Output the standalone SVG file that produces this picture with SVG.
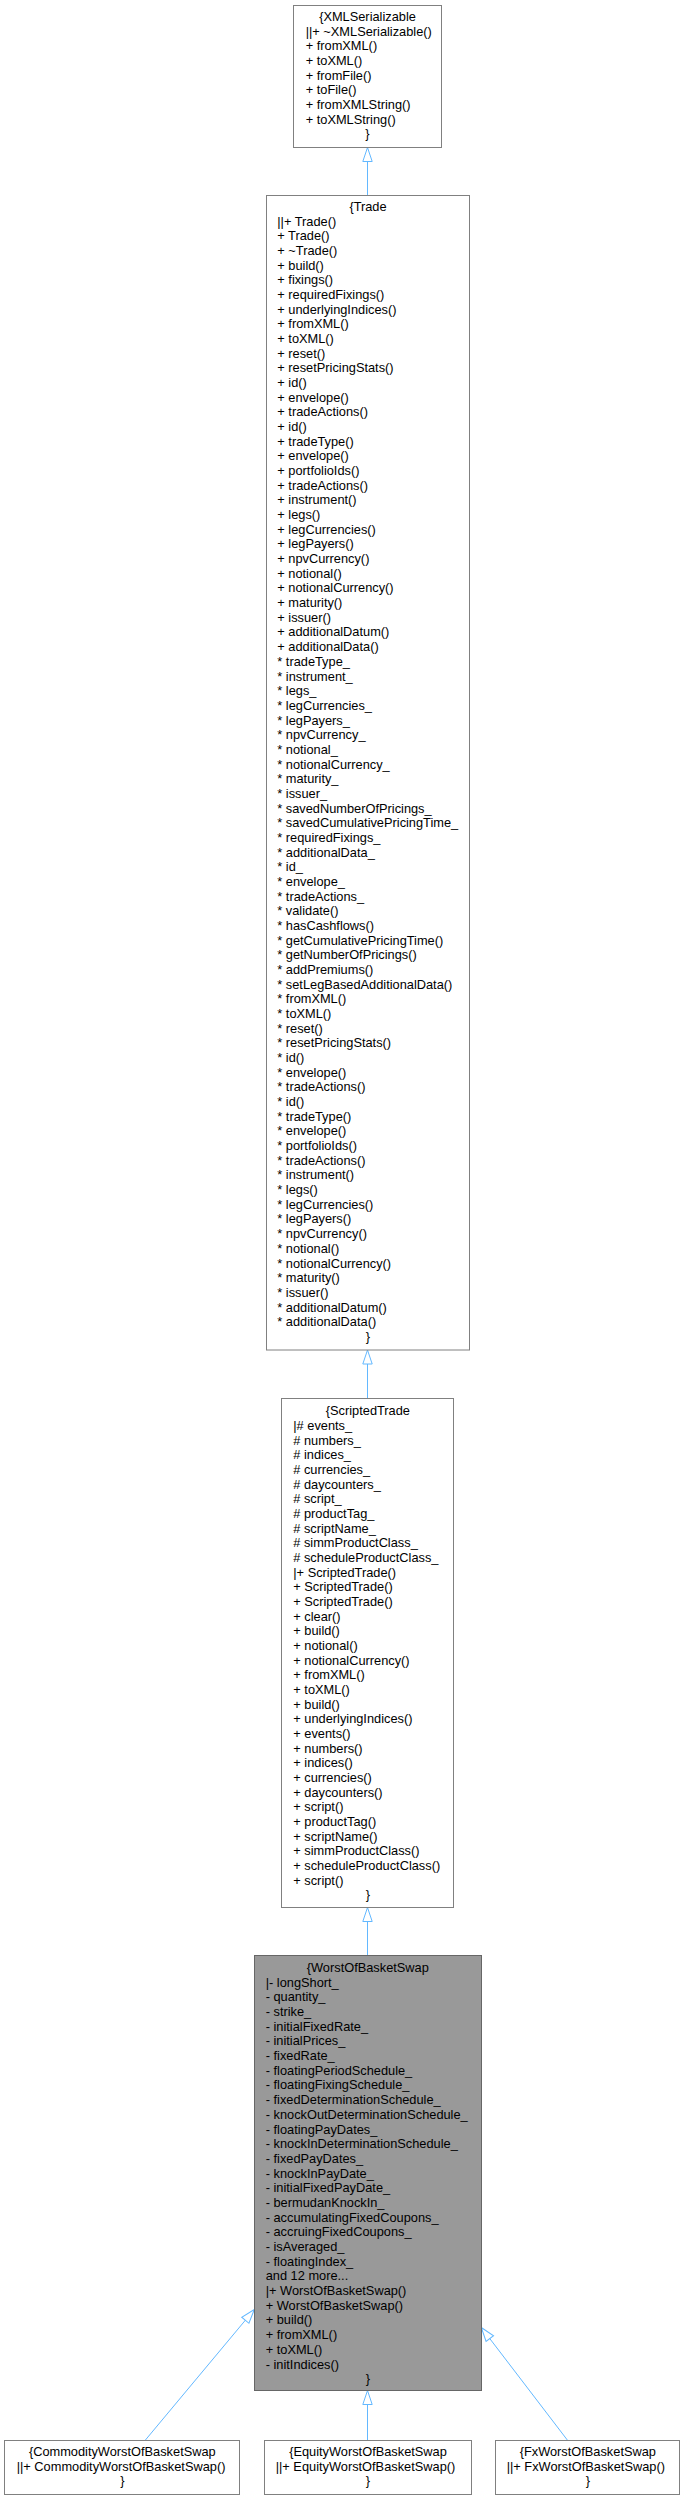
<svg xmlns="http://www.w3.org/2000/svg" width="685" height="2500" viewBox="0 0 685 2500">
<style>
.box{fill:#ffffff;stroke:#808080;stroke-width:1}
.main{fill:#999999;stroke:#666666;stroke-width:1}
text{font-family:"Liberation Sans",Arial,Helvetica,sans-serif;font-size:12.8px;fill:#000000}
.c{text-anchor:middle}
.edge{fill:none;stroke:#63b8ff;stroke-width:1;marker-start:url(#tri)}
</style>
<defs>
<marker id="tri" viewBox="0 0 16 12" markerWidth="16" markerHeight="12" refX="1" refY="6" orient="auto" markerUnits="userSpaceOnUse">
<path d="M1,6 L15,1.3 L15,10.7 Z" fill="#ffffff" stroke="#63b8ff" stroke-width="1"/>
</marker>
</defs>
<rect width="685" height="2500" fill="#ffffff"/>
<g id="connectors">
<path class="edge" d="M367.5,147.5 L367.5,195.5"/>
<path class="edge" d="M367.5,1350 L367.5,1398.5"/>
<path class="edge" d="M367.5,1907.5 L367.5,1955.5"/>
<path class="edge" d="M367.5,2390.5 L367.5,2440.5"/>
<path class="edge" d="M254.3,2309.5 L145,2440.5"/>
<path class="edge" d="M481.3,2327.5 L567.7,2440.5"/>
</g>
<g id="XMLSerializable">
<rect class="box" x="293.5" y="5.5" width="148" height="142"/>
<text class="c" x="367.5" y="20.9">{XMLSerializable</text>
<text x="305.7" y="35.6"><tspan x="305.7">||+ ~XMLSerializable()</tspan><tspan x="305.7" dy="14.67">+ fromXML()</tspan><tspan x="305.7" dy="14.67">+ toXML()</tspan><tspan x="305.7" dy="14.67">+ fromFile()</tspan><tspan x="305.7" dy="14.67">+ toFile()</tspan><tspan x="305.7" dy="14.67">+ fromXMLString()</tspan><tspan x="305.7" dy="14.67">+ toXMLString()</tspan></text>
<text class="c" x="367.5" y="138.3">}</text>
</g>
<g id="Trade">
<rect class="box" x="266.5" y="195.5" width="203" height="1154.5"/>
<text class="c" x="368" y="210.9">{Trade</text>
<text x="277.3" y="225.6"><tspan x="277.3">||+ Trade()</tspan><tspan x="277.3" dy="14.675">+ Trade()</tspan><tspan x="277.3" dy="14.675">+ ~Trade()</tspan><tspan x="277.3" dy="14.675">+ build()</tspan><tspan x="277.3" dy="14.675">+ fixings()</tspan><tspan x="277.3" dy="14.675">+ requiredFixings()</tspan><tspan x="277.3" dy="14.675">+ underlyingIndices()</tspan><tspan x="277.3" dy="14.675">+ fromXML()</tspan><tspan x="277.3" dy="14.675">+ toXML()</tspan><tspan x="277.3" dy="14.675">+ reset()</tspan><tspan x="277.3" dy="14.675">+ resetPricingStats()</tspan><tspan x="277.3" dy="14.675">+ id()</tspan><tspan x="277.3" dy="14.675">+ envelope()</tspan><tspan x="277.3" dy="14.675">+ tradeActions()</tspan><tspan x="277.3" dy="14.675">+ id()</tspan><tspan x="277.3" dy="14.675">+ tradeType()</tspan><tspan x="277.3" dy="14.675">+ envelope()</tspan><tspan x="277.3" dy="14.675">+ portfolioIds()</tspan><tspan x="277.3" dy="14.675">+ tradeActions()</tspan><tspan x="277.3" dy="14.675">+ instrument()</tspan><tspan x="277.3" dy="14.675">+ legs()</tspan><tspan x="277.3" dy="14.675">+ legCurrencies()</tspan><tspan x="277.3" dy="14.675">+ legPayers()</tspan><tspan x="277.3" dy="14.675">+ npvCurrency()</tspan><tspan x="277.3" dy="14.675">+ notional()</tspan><tspan x="277.3" dy="14.675">+ notionalCurrency()</tspan><tspan x="277.3" dy="14.675">+ maturity()</tspan><tspan x="277.3" dy="14.675">+ issuer()</tspan><tspan x="277.3" dy="14.675">+ additionalDatum()</tspan><tspan x="277.3" dy="14.675">+ additionalData()</tspan><tspan x="277.3" dy="14.675">* tradeType_</tspan><tspan x="277.3" dy="14.675">* instrument_</tspan><tspan x="277.3" dy="14.675">* legs_</tspan><tspan x="277.3" dy="14.675">* legCurrencies_</tspan><tspan x="277.3" dy="14.675">* legPayers_</tspan><tspan x="277.3" dy="14.675">* npvCurrency_</tspan><tspan x="277.3" dy="14.675">* notional_</tspan><tspan x="277.3" dy="14.675">* notionalCurrency_</tspan><tspan x="277.3" dy="14.675">* maturity_</tspan><tspan x="277.3" dy="14.675">* issuer_</tspan><tspan x="277.3" dy="14.675">* savedNumberOfPricings_</tspan><tspan x="277.3" dy="14.675">* savedCumulativePricingTime_</tspan><tspan x="277.3" dy="14.675">* requiredFixings_</tspan><tspan x="277.3" dy="14.675">* additionalData_</tspan><tspan x="277.3" dy="14.675">* id_</tspan><tspan x="277.3" dy="14.675">* envelope_</tspan><tspan x="277.3" dy="14.675">* tradeActions_</tspan><tspan x="277.3" dy="14.675">* validate()</tspan><tspan x="277.3" dy="14.675">* hasCashflows()</tspan><tspan x="277.3" dy="14.675">* getCumulativePricingTime()</tspan><tspan x="277.3" dy="14.675">* getNumberOfPricings()</tspan><tspan x="277.3" dy="14.675">* addPremiums()</tspan><tspan x="277.3" dy="14.675">* setLegBasedAdditionalData()</tspan><tspan x="277.3" dy="14.675">* fromXML()</tspan><tspan x="277.3" dy="14.675">* toXML()</tspan><tspan x="277.3" dy="14.675">* reset()</tspan><tspan x="277.3" dy="14.675">* resetPricingStats()</tspan><tspan x="277.3" dy="14.675">* id()</tspan><tspan x="277.3" dy="14.675">* envelope()</tspan><tspan x="277.3" dy="14.675">* tradeActions()</tspan><tspan x="277.3" dy="14.675">* id()</tspan><tspan x="277.3" dy="14.675">* tradeType()</tspan><tspan x="277.3" dy="14.675">* envelope()</tspan><tspan x="277.3" dy="14.675">* portfolioIds()</tspan><tspan x="277.3" dy="14.675">* tradeActions()</tspan><tspan x="277.3" dy="14.675">* instrument()</tspan><tspan x="277.3" dy="14.675">* legs()</tspan><tspan x="277.3" dy="14.675">* legCurrencies()</tspan><tspan x="277.3" dy="14.675">* legPayers()</tspan><tspan x="277.3" dy="14.675">* npvCurrency()</tspan><tspan x="277.3" dy="14.675">* notional()</tspan><tspan x="277.3" dy="14.675">* notionalCurrency()</tspan><tspan x="277.3" dy="14.675">* maturity()</tspan><tspan x="277.3" dy="14.675">* issuer()</tspan><tspan x="277.3" dy="14.675">* additionalDatum()</tspan><tspan x="277.3" dy="14.675">* additionalData()</tspan></text>
<text class="c" x="368" y="1340.9">}</text>
</g>
<g id="ScriptedTrade">
<rect class="box" x="281.5" y="1398.5" width="172" height="509"/>
<text class="c" x="367.9" y="1415.2">{ScriptedTrade</text>
<text x="293.3" y="1429.9"><tspan x="293.3">|# events_</tspan><tspan x="293.3" dy="14.67"># numbers_</tspan><tspan x="293.3" dy="14.67"># indices_</tspan><tspan x="293.3" dy="14.67"># currencies_</tspan><tspan x="293.3" dy="14.67"># daycounters_</tspan><tspan x="293.3" dy="14.67"># script_</tspan><tspan x="293.3" dy="14.67"># productTag_</tspan><tspan x="293.3" dy="14.67"># scriptName_</tspan><tspan x="293.3" dy="14.67"># simmProductClass_</tspan><tspan x="293.3" dy="14.67"># scheduleProductClass_</tspan><tspan x="293.3" dy="14.67">|+ ScriptedTrade()</tspan><tspan x="293.3" dy="14.67">+ ScriptedTrade()</tspan><tspan x="293.3" dy="14.67">+ ScriptedTrade()</tspan><tspan x="293.3" dy="14.67">+ clear()</tspan><tspan x="293.3" dy="14.67">+ build()</tspan><tspan x="293.3" dy="14.67">+ notional()</tspan><tspan x="293.3" dy="14.67">+ notionalCurrency()</tspan><tspan x="293.3" dy="14.67">+ fromXML()</tspan><tspan x="293.3" dy="14.67">+ toXML()</tspan><tspan x="293.3" dy="14.67">+ build()</tspan><tspan x="293.3" dy="14.67">+ underlyingIndices()</tspan><tspan x="293.3" dy="14.67">+ events()</tspan><tspan x="293.3" dy="14.67">+ numbers()</tspan><tspan x="293.3" dy="14.67">+ indices()</tspan><tspan x="293.3" dy="14.67">+ currencies()</tspan><tspan x="293.3" dy="14.67">+ daycounters()</tspan><tspan x="293.3" dy="14.67">+ script()</tspan><tspan x="293.3" dy="14.67">+ productTag()</tspan><tspan x="293.3" dy="14.67">+ scriptName()</tspan><tspan x="293.3" dy="14.67">+ simmProductClass()</tspan><tspan x="293.3" dy="14.67">+ scheduleProductClass()</tspan><tspan x="293.3" dy="14.67">+ script()</tspan></text>
<text class="c" x="367.9" y="1899.3">}</text>
</g>
<g id="WorstOfBasketSwap">
<rect class="main" x="254.5" y="1955.5" width="227" height="435"/>
<text class="c" x="367.8" y="1971.9">{WorstOfBasketSwap</text>
<text x="265.7" y="1986.6"><tspan x="265.7">|- longShort_</tspan><tspan x="265.7" dy="14.69">- quantity_</tspan><tspan x="265.7" dy="14.69">- strike_</tspan><tspan x="265.7" dy="14.69">- initialFixedRate_</tspan><tspan x="265.7" dy="14.69">- initialPrices_</tspan><tspan x="265.7" dy="14.69">- fixedRate_</tspan><tspan x="265.7" dy="14.69">- floatingPeriodSchedule_</tspan><tspan x="265.7" dy="14.69">- floatingFixingSchedule_</tspan><tspan x="265.7" dy="14.69">- fixedDeterminationSchedule_</tspan><tspan x="265.7" dy="14.69">- knockOutDeterminationSchedule_</tspan><tspan x="265.7" dy="14.69">- floatingPayDates_</tspan><tspan x="265.7" dy="14.69">- knockInDeterminationSchedule_</tspan><tspan x="265.7" dy="14.69">- fixedPayDates_</tspan><tspan x="265.7" dy="14.69">- knockInPayDate_</tspan><tspan x="265.7" dy="14.69">- initialFixedPayDate_</tspan><tspan x="265.7" dy="14.69">- bermudanKnockIn_</tspan><tspan x="265.7" dy="14.69">- accumulatingFixedCoupons_</tspan><tspan x="265.7" dy="14.69">- accruingFixedCoupons_</tspan><tspan x="265.7" dy="14.69">- isAveraged_</tspan><tspan x="265.7" dy="14.69">- floatingIndex_</tspan><tspan x="265.7" dy="14.69">and 12 more...</tspan><tspan x="265.7" dy="14.69">|+ WorstOfBasketSwap()</tspan><tspan x="265.7" dy="14.69">+ WorstOfBasketSwap()</tspan><tspan x="265.7" dy="14.69">+ build()</tspan><tspan x="265.7" dy="14.69">+ fromXML()</tspan><tspan x="265.7" dy="14.69">+ toXML()</tspan><tspan x="265.7" dy="14.69">- initIndices()</tspan></text>
<text class="c" x="367.8" y="2383.2">}</text>
</g>
<g id="CommodityWorstOfBasketSwap">
<rect class="box" x="4.5" y="2440.5" width="235" height="54"/>
<text class="c" x="122.3" y="2455.9">{CommodityWorstOfBasketSwap</text>
<text x="16.7" y="2470.6">||+ CommodityWorstOfBasketSwap()</text>
<text class="c" x="122.3" y="2485.3">}</text>
</g>
<g id="EquityWorstOfBasketSwap">
<rect class="box" x="264.5" y="2440.5" width="207" height="54"/>
<text class="c" x="368" y="2455.9">{EquityWorstOfBasketSwap</text>
<text x="275.7" y="2470.6">||+ EquityWorstOfBasketSwap()</text>
<text class="c" x="368" y="2485.3">}</text>
</g>
<g id="FxWorstOfBasketSwap">
<rect class="box" x="495.5" y="2440.5" width="184" height="54"/>
<text class="c" x="587.8" y="2455.9">{FxWorstOfBasketSwap</text>
<text x="506.7" y="2470.6">||+ FxWorstOfBasketSwap()</text>
<text class="c" x="587.8" y="2485.3">}</text>
</g>
</svg>
